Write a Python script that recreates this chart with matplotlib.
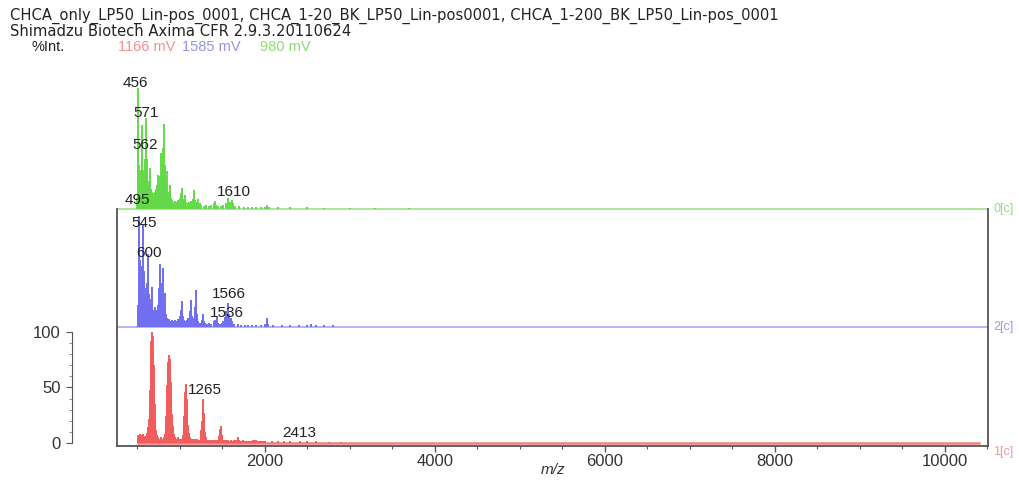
import matplotlib
matplotlib.use("Agg")
import matplotlib.pyplot as plt
from matplotlib.ticker import MultipleLocator, FixedLocator

plt.rcParams['font.family'] = ['Liberation Sans', 'DejaVu Sans']

# --- data: stick spectra (m/z, % intensity) ---
red_mz = [505, 515, 525, 535, 545, 555, 565, 575, 585, 595,
          605, 615, 625, 635, 642, 648, 654, 659, 664, 669, 674, 679, 684, 689, 695, 702, 710, 720, 732, 745,
          758, 770, 782, 795, 803,
          810, 820, 830, 838, 845, 852, 858, 864, 870, 875, 880, 886, 892, 898, 905, 914, 925, 938,
          950, 965, 980, 995, 1005, 1015,
          1025, 1035, 1043, 1050, 1056, 1062, 1067, 1071, 1076, 1082, 1088, 1095, 1104, 1115,
          1130, 1145, 1160, 1180, 1200, 1215, 1225,
          1235, 1245, 1253, 1260, 1266, 1271, 1276, 1281, 1287, 1294, 1304, 1315,
          1328, 1340, 1360, 1380, 1400, 1420, 1440,
          1450, 1460, 1468, 1474, 1480, 1486, 1493, 1502,
          1520, 1540, 1560, 1580, 1600, 1620, 1640, 1660, 1680, 1700,
          1720, 1740, 1760, 1780, 1800, 1820, 1840, 1860, 1880, 1900,
          1920, 1940, 1960, 1980, 2000, 2080, 2150, 2220, 2300, 2413, 2500, 2600, 2750, 2900]
red_int = [7, 6, 8, 6, 7, 6, 8, 5, 6, 5,
           6, 9, 14, 22, 32, 48, 65, 80, 92, 98, 100, 96, 85, 70, 52, 35, 22, 12, 7, 5,
           4, 4, 5, 4, 4,
           5, 8, 14, 24, 38, 52, 64, 73, 78, 79, 76, 68, 55, 40, 26, 15, 8, 5,
           4, 4, 5, 4, 4, 4,
           4, 7, 13, 24, 36, 46, 52, 53, 50, 40, 28, 16, 9, 5,
           4, 4, 3.5, 4, 3.5, 3, 3,
           3, 6, 12, 20, 27, 30, 40, 27, 18, 10, 5, 3,
           3, 3, 3, 2.5, 3, 2.5, 2.5,
           3, 6, 10, 13, 15, 12, 7, 3,
           2.5, 2.5, 2.5, 2, 2.5, 2, 2.5, 3, 5, 3,
           2, 2.5, 2, 2, 2, 2, 2, 2.5, 3, 2.5,
           2, 2, 1.5, 2, 1.5, 2, 1.5, 1.5, 1.5, 2, 1.5, 1.5, 1.2, 1.2]

blue_mz = [505, 512, 518, 524, 530, 540, 550, 558, 568, 575, 585, 595, 605, 615, 627, 635, 645, 655,
           667, 675, 685, 695, 706, 715, 725, 735, 745, 755, 762, 768, 775, 785, 796, 805, 815, 824,
           835, 845, 860, 875, 890, 905, 920, 940, 960, 980, 1000, 1010, 1020, 1030, 1045, 1060,
           1080, 1100, 1115, 1129, 1140, 1160, 1175, 1188, 1198, 1215, 1235, 1255, 1274, 1285,
           1300, 1320, 1345, 1370, 1395, 1415, 1431, 1445, 1470, 1490, 1510, 1525, 1536, 1550,
           1566, 1580, 1595, 1610, 1640, 1680, 1720, 1760, 1800, 1850, 1900, 1950, 2000, 2020,
           2040, 2100, 2200, 2300, 2400, 2500, 2540, 2600, 2700, 2800]
blue_int = [20, 45, 100, 60, 35, 28, 40, 55, 92, 50, 30, 25, 35, 40, 66, 30, 22, 25,
            36, 18, 15, 14, 18, 12, 14, 15, 20, 35, 45, 57, 40, 30, 53, 25, 20, 31,
            12, 8, 6, 7, 5, 6, 5, 6, 5, 7, 10, 15, 23, 10, 6, 5,
            6, 8, 14, 24, 10, 8, 18, 33, 12, 5, 4, 6, 12, 5,
            4, 3, 4, 3, 5, 6, 9, 4, 3, 4, 5, 9, 14, 10,
            22, 12, 8, 5, 3, 3, 2, 2, 2, 2, 2, 2, 3, 8,
            3, 2, 1.5, 1.5, 1.5, 2, 3, 1.5, 1.5, 1.5]

green_mz = [495, 502, 508, 515, 522, 530, 540, 549, 556, 563, 572, 580, 590, 600, 607, 615, 625,
            635, 647, 655, 665, 675, 685, 695, 705, 715, 725, 737, 745, 755, 765, 776, 785, 795,
            805, 816, 825, 835, 843, 852, 862, 872, 882, 892, 905, 920, 940, 960, 980, 995, 1008,
            1020, 1030, 1045, 1059, 1070, 1090, 1110, 1130, 1150, 1168, 1180, 1195, 1216, 1230,
            1250, 1280, 1310, 1340, 1370, 1395, 1412, 1425, 1450, 1480, 1510, 1540, 1569, 1585,
            1608, 1625, 1650, 1700, 1750, 1800, 1850, 1900, 1950, 2000, 2020, 2050, 2150, 2300,
            2500, 2700, 3000, 3300, 3700]
green_int = [10, 109, 60, 40, 30, 25, 35, 76, 40, 30, 25, 35, 45, 82, 45, 30, 20,
             25, 37, 18, 15, 12, 14, 12, 15, 18, 22, 31, 20, 25, 30, 50, 35, 40,
             55, 77, 40, 28, 34, 15, 12, 15, 22, 10, 8, 6, 7, 6, 8, 10, 14,
             19, 9, 8, 13, 6, 5, 6, 7, 9, 17, 8, 6, 9, 5,
             4, 3, 4, 3, 4, 5, 7, 4, 3, 3, 4, 5, 10, 6,
             8, 5, 3, 2.5, 2, 2, 2, 2, 1.5, 2, 4, 2, 1.5, 1.5,
             1.5, 1.2, 1.2, 1, 1]

# peak annotations: text, m/z position, height above own baseline
red_labels = ["1265", "2413"]
red_label_mz = [1294, 2406]
red_label_y = [47.7, 9]
blue_labels = ["545", "600", "1566", "1536"]
blue_label_mz = [576, 635, 1570, 1547]
blue_label_y = [93.7, 66.7, 29.7, 12.6]
green_labels = ["456", "571", "562", "495", "1610"]
green_label_mz = [470, 600, 588, 494, 1629]
green_label_y = [113.5, 86.5, 57.7, 8, 15.3]

trace_names = ["1[c]", "2[c]", "0[c]"]

# --- layout ---
W, H = 1019, 480
fig = plt.figure(figsize=(W / 100, H / 100), dpi=100)

off_red, off_blue, off_green = 0, 104.5, 210.8
c_red, c_blue, c_green = '#f25c5c', '#6f6ff0', '#63d94a'

L, R = 117 / W, 988 / W
B, T = (H - 446) / H, (H - 70) / H
ax = fig.add_axes([L, B, R - L, T - B])
ax.set_xlim(259, 10506)
ax.set_ylim(-2.7, 336)
ax.patch.set_alpha(0)

# baselines
ax.axhline(off_green, color='#9fe08f', lw=1.2, zorder=1)
ax.axhline(off_blue, color='#a8a8f0', lw=1.2, zorder=1)
ax.plot([red_mz[0], 10400], [off_red, off_red], color='#f08080', lw=1.8, zorder=1)

for mz, it, off, col in [(red_mz, red_int, off_red, c_red),
                         (blue_mz, blue_int, off_blue, c_blue),
                         (green_mz, green_int, off_green, c_green)]:
    ax.vlines(mz, off, [off + v for v in it], color=col, lw=1.4, zorder=2)

for labs, xs, ys, off in [(red_labels, red_label_mz, red_label_y, off_red),
                          (blue_labels, blue_label_mz, blue_label_y, off_blue),
                          (green_labels, green_label_mz, green_label_y, off_green)]:
    for t, x, y in zip(labs, xs, ys):
        ax.text(x, off + y, t, ha='center', va='center', fontsize=11, color='#222222', zorder=3)

# frame
for s in ['left', 'right']:
    ax.spines[s].set_bounds(-2.7, off_green)
    ax.spines[s].set_color('#555555')
    ax.spines[s].set_linewidth(1.3)
ax.spines['top'].set_visible(False)
ax.spines['bottom'].set_color('#555555')
ax.spines['bottom'].set_linewidth(1.3)
ax.set_yticks([])
ax.xaxis.set_major_locator(MultipleLocator(2000))
ax.xaxis.set_minor_locator(MultipleLocator(500))
ax.tick_params(axis='x', which='major', length=4, width=1, colors='#555555', labelsize=12,
               labelcolor='#333333', pad=2)
ax.tick_params(axis='x', which='minor', length=2, width=0.8, colors='#555555')

# right-hand trace names
names_y = [-8, off_blue, off_green]
names_col = ['#f09a9a', '#9a9ae8', '#95dd85']
for t, y, col in zip(trace_names, names_y, names_col):
    ax.text(1.006, y, t, transform=ax.get_yaxis_transform(), ha='left', va='center',
            fontsize=9, color=col)

# separate intensity scale on the far left
ax_int = fig.add_axes([72 / W, B, 0.0005, T - B])
ax_int.set_ylim(ax.get_ylim())
ax_int.patch.set_alpha(0)
for s in ['top', 'right', 'bottom']:
    ax_int.spines[s].set_visible(False)
ax_int.spines['left'].set_bounds(0, 100)
ax_int.spines['left'].set_color('#555555')
ax_int.set_xticks([])
ax_int.set_yticks([0, 50, 100])
ax_int.yaxis.set_minor_locator(FixedLocator(list(range(0, 101, 10))))
ax_int.tick_params(axis='y', which='major', length=4, colors='#555555', labelsize=12,
                   labelcolor='#333333', pad=4)
ax_int.tick_params(axis='y', which='minor', length=2, colors='#777777')

fig.text(553 / W, 1 - 470 / H, 'm/z', ha='center', va='center', fontsize=11,
         style='italic', color='#333333')

# header
hdr = dict(ha='left', va='center', family='DejaVu Sans')
fig.text(10 / W, 1 - 16 / H,
         'CHCA_only_LP50_Lin-pos_0001, CHCA_1-20_BK_LP50_Lin-pos0001, CHCA_1-200_BK_LP50_Lin-pos_0001',
         fontsize=10.6, color='#222222', **hdr)
fig.text(10 / W, 1 - 31 / H, 'Shimadzu Biotech Axima CFR 2.9.3.20110624',
         fontsize=10.6, color='#222222', **hdr)
sub = dict(ha='left', va='center', fontsize=10.5)
fig.text(31 / W, 1 - 47 / H, '%Int.', color='#222222', **sub)
fig.text(118 / W, 1 - 47 / H, '1166 mV', color='#f29090', **sub)
fig.text(182 / W, 1 - 47 / H, '1585 mV', color='#9494ea', **sub)
fig.text(260 / W, 1 - 47 / H, '980 mV', color='#8ddc70', **sub)

fig.savefig('out.png', dpi=100)
